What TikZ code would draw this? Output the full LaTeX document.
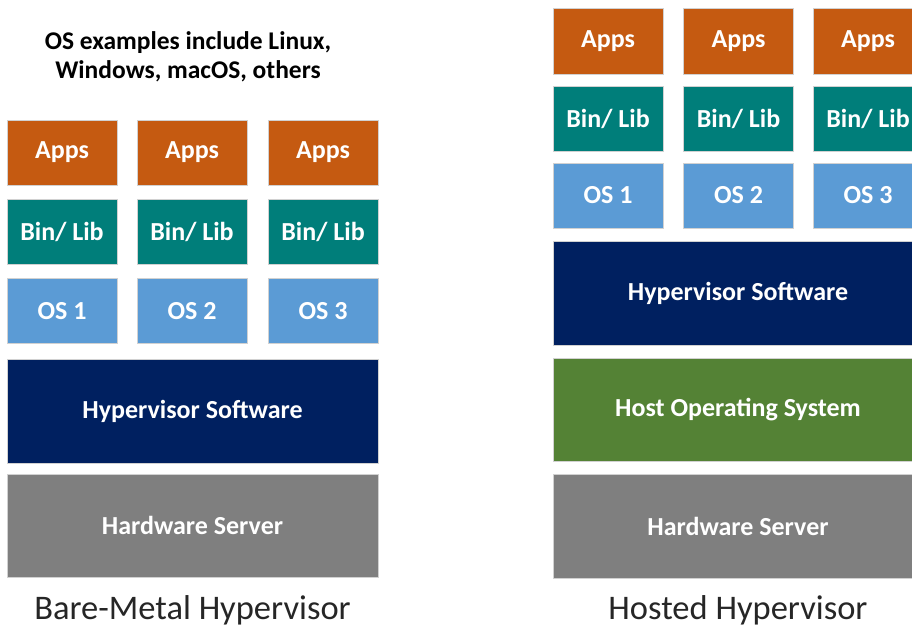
\documentclass[tikz,border=0pt]{standalone}
\usepackage{fontspec}
\setmainfont{Carlito}
\definecolor{appsor}{HTML}{C55A11}
\definecolor{binteal}{HTML}{007E7A}
\definecolor{osblue}{HTML}{5B9BD5}
\definecolor{hypnavy}{HTML}{002060}
\definecolor{hostgreen}{HTML}{548235}
\definecolor{hwgray}{HTML}{7F7F7F}
\tikzset{
  layer/.style={rectangle, draw=black!18, line width=0.8pt, text=white,
    font=\fontsize{26}{30}\selectfont\bfseries, inner sep=0pt},
  small/.style={layer, minimum width=110pt, minimum height=65pt},
  wide/.style={layer, minimum width=371pt, minimum height=104pt},
  caption/.style={font=\fontsize{34.5}{38}\selectfont, text=black!85},
  note/.style={font=\fontsize{25.5}{28.5}\selectfont\bfseries, align=center}
}
\begin{document}
\begin{tikzpicture}[x=1pt, y=-1pt]
\useasboundingbox (0,0) rectangle (912,628);
\clip (0,0) rectangle (912,628);
\fill[white] (0,0) rectangle (912,628);

% bare-metal stack
\node[note] (note) at (188,57) {OS examples include Linux,\\Windows, macOS, others};
\foreach \i/\x in {1/62, 2/192, 3/323} {
  \node[small, fill=appsor]  (bmapps\i) at (\x,152.5) {Apps};
  \node[small, fill=binteal] (bmbin\i)  at (\x,231.5) {Bin/ Lib};
  \node[small, fill=osblue]  (bmos\i)   at (\x,311)   {OS \i};
}
\node[wide, fill=hypnavy] (bmhyp) at (192.5,411)   {Hypervisor Software};
\node[wide, fill=hwgray, minimum height=103pt]  (bmhw)  at (192.5,525.5) {Hardware Server};
\node[caption] (bmcap) at (192.5,610) {Bare-Metal Hypervisor};

% hosted stack
\foreach \i/\x in {1/608, 2/738.5, 3/868} {
  \node[small, fill=appsor, minimum height=66pt]  (hsapps\i) at (\x,41)    {Apps};
  \node[small, fill=binteal] (hsbin\i)  at (\x,118.5) {Bin/ Lib};
  \node[small, fill=osblue]  (hsos\i)   at (\x,195.5) {OS \i};
}
\node[wide, fill=hypnavy, minimum width=370pt]   (hshyp)  at (738,293)   {Hypervisor Software};
\node[wide, fill=hostgreen, minimum width=370pt, minimum height=103pt] (hshost) at (738,409.5) {Host Operating System};
\node[wide, fill=hwgray, minimum width=370pt]    (hshw)   at (738,526)   {Hardware Server};
\node[caption] (hscap) at (738,610) {Hosted Hypervisor};
\end{tikzpicture}
\end{document}
